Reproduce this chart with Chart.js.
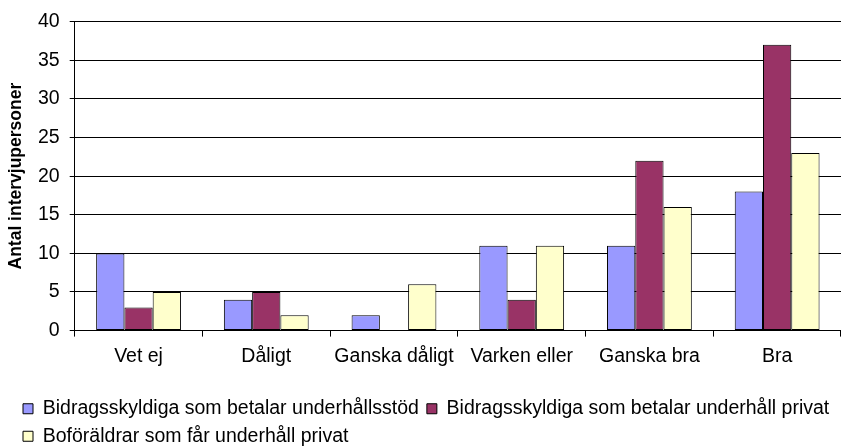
<!DOCTYPE html>
<html>
<head>
<meta charset="utf-8">
<script src="https://cdn.jsdelivr.net/npm/chart.js@4/dist/chart.umd.min.js"></script>
<style>
  body { margin: 0; background: #fff; }
  #chart { display: block; }
</style>
</head>
<body>
<canvas id="chart" width="841" height="447"></canvas>
<script>
const categories = ['Vet ej', 'Dåligt', 'Ganska dåligt', 'Varken eller', 'Ganska bra', 'Bra'];
const seriesNames = [
  'Bidragsskyldiga som betalar underhållsstöd',
  'Bidragsskyldiga som betalar underhåll privat',
  'Boföräldrar som får underhåll privat'
];
const underhallsstod = [10, 4, 2, 11, 11, 18];
const underhallPrivat = [3, 5, 0, 4, 22, 37];
const boforaldrar = [5, 2, 6, 11, 16, 23];
const colors = ['#9999FF', '#993366', '#FFFFCC'];

const ctx = document.getElementById('chart').getContext('2d');
Chart.defaults.font.family = '"Liberation Sans", Arial, sans-serif';
Chart.defaults.color = '#000';

// move the legend a bit right and down (draw only, layout untouched)
const legendShift = {
  id: 'legendShift',
  beforeDraw(chart) {
    const lg = chart.legend;
    if (lg._shifted) return;
    lg._shifted = true;
    lg.left += 13;
    lg.right += 13;
    lg.top += 9;
  }
};

new Chart(ctx, {
  type: 'bar',
  data: {
    labels: categories,
    datasets: [underhallsstod, underhallPrivat, boforaldrar].map((d, i) => ({
      label: seriesNames[i],
      data: d,
      backgroundColor: colors[i],
      borderColor: '#000',
      borderWidth: 1,
      borderSkipped: false,
      barPercentage: 1,
      categoryPercentage: 0.664,
    })),
  },
  options: {
    responsive: false,
    animation: false,
    layout: { padding: { left: 2, right: 0, top: 11, bottom: 0 } },
    scales: {
      x: {
        offset: true,
        grid: {
          offset: true,
          drawOnChartArea: false,
          color: '#000',
          tickLength: 6,
        },
        border: { color: '#000' },
        ticks: { font: { size: 19.5 }, padding: 8, maxRotation: 0, autoSkip: false },
        afterFit(scale) { scale.height += 6; },
      },
      y: {
        min: 0,
        max: 40,
        ticks: { stepSize: 5, font: { size: 19.5 }, padding: 10 },
        grid: { color: '#000', tickLength: 5 },
        border: { color: '#000' },
        title: {
          display: true,
          text: 'Antal intervjupersoner',
          font: { size: 17.5, weight: 'bold' },
          padding: 4,
        },
        afterFit(scale) { scale.width -= 3; },
      },
    },
    plugins: {
      legend: {
        position: 'bottom',
        align: 'start',
        labels: {
          boxWidth: 10,
          boxHeight: 10,
          font: { size: 19.5 },
          padding: 8,
        },
      },
      tooltip: { enabled: false },
    },
  },
  plugins: [legendShift],
});
</script>
</body>
</html>
